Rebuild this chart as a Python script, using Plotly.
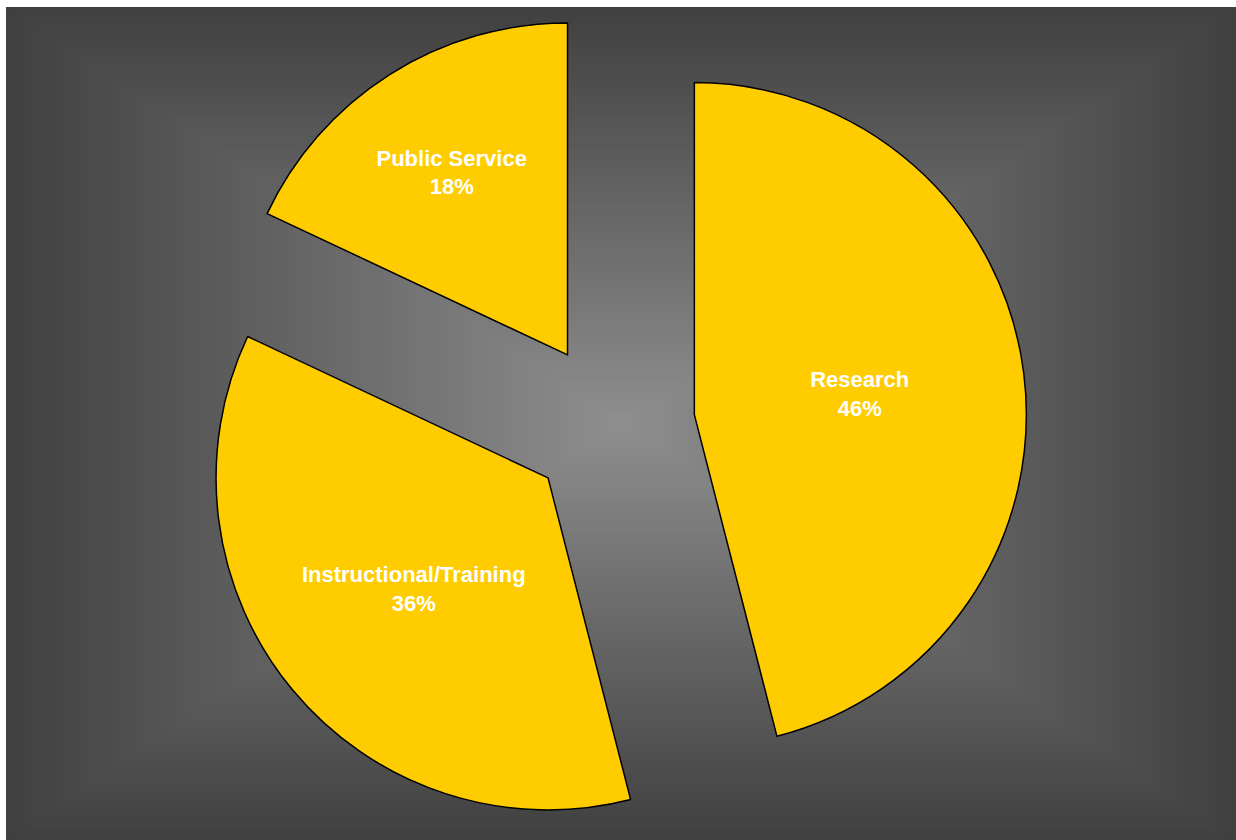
import plotly.graph_objects as go

# ---- data ----
categories = ["Research", "Instructional/Training", "Public Service"]
shares = [46, 36, 18]

W, H = 1236, 840
fig = go.Figure()

fig.add_trace(go.Pie(
    labels=categories,
    values=shares,
    sort=False,
    direction="clockwise",
    rotation=0,
    pull=[0.25, 0.25, 0.25],
    marker=dict(colors=["#FFCC00"] * 3, line=dict(color="#000000", width=1.5)),
    texttemplate="%{label}<br>%{percent:.0%}",
    textposition="inside",
    insidetextorientation="horizontal",
    textfont=dict(family="Liberation Sans, Arial", size=22, color="#FFFFFF", weight="bold"),
    domain=dict(x=[196 / W, 1028 / W], y=[0, 1 - 10 / H]),
    hoverinfo="skip",
    showlegend=False,
))

# rectangular "from centre" gradient background
x0, x1, y0, y1 = 6, W, 7, H
cx, cy = (x0 + x1) / 2, (y0 + y1) / 2
hw, hh = (x1 - x0) / 2, (y1 - y0) / 2
edge = (64, 64, 64)
center = (142, 142, 142)
N = 90
shapes = []
for i in range(N):
    f = 1 - i / N
    t = i / (N - 1)
    c = tuple(round(edge[k] + (center[k] - edge[k]) * t) for k in range(3))
    shapes.append(dict(
        type="rect", xref="paper", yref="paper", layer="below",
        x0=(cx - f * hw) / W, x1=(cx + f * hw) / W,
        y0=1 - (cy + f * hh) / H, y1=1 - (cy - f * hh) / H,
        line=dict(width=0), fillcolor="rgb(%d,%d,%d)" % c,
    ))

fig.update_layout(
    width=W, height=H,
    margin=dict(l=0, r=0, t=0, b=0),
    paper_bgcolor="#FFFFFF",
    plot_bgcolor="rgba(0,0,0,0)",
    shapes=shapes,
    uniformtext=dict(minsize=22, mode="show"),
)

fig.write_html(
    "out.html",
    config={"displayModeBar": False},
    post_script="document.body.style.margin='0';document.body.style.overflow='hidden';",
)
